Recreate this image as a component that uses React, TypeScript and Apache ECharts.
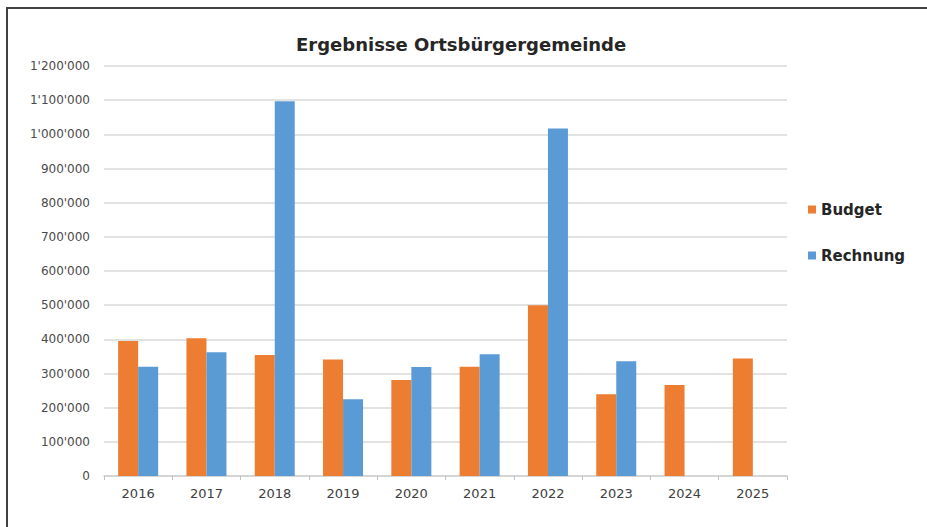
import React, { useEffect, useRef } from "react";
import * as echarts from "echarts";

const years = ["2016", "2017", "2018", "2019", "2020", "2021", "2022", "2023", "2024", "2025"];
const budget = [395000, 403000, 354000, 341000, 281000, 320000, 500000, 239000, 266000, 344000];
const rechnung: (number | null)[] = [320000, 362000, 1097000, 225000, 319000, 356000, 1017000, 336000, null, null];
const title = "Ergebnisse Ortsbürgergemeinde";
const seriesNames = ["Budget", "Rechnung"];

const fmt = (v: number) => String(v).replace(/\B(?=(\d{3})+(?!\d))/g, "'");

export default function App() {
  const ref = useRef<HTMLDivElement>(null);
  useEffect(() => {
    if (!ref.current) return;
    const chart = echarts.init(ref.current, null, { renderer: "svg" });
    const font = "'DejaVu Sans', sans-serif";
    chart.setOption({
      animation: false,
      backgroundColor: "#ffffff",
      textStyle: { fontFamily: font },
      title: {
        text: title,
        left: 291,
        top: 30,
        textStyle: { fontSize: 18, fontWeight: "bold", color: "#262626", fontFamily: font },
      },
      legend: {
        orient: "vertical",
        left: 803,
        top: 197,
        itemWidth: 8,
        itemHeight: 8,
        itemGap: 31,
        icon: "rect",
        data: seriesNames,
        textStyle: { fontSize: 15, fontWeight: "bold", color: "#262626", fontFamily: font },
      },
      grid: { left: 104, right: 140, top: 66, bottom: 51, containLabel: false },
      xAxis: {
        type: "category",
        data: years,
        axisLine: { lineStyle: { color: "#d0d0d0", width: 1.5 } },
        axisTick: { show: true, length: 4, lineStyle: { color: "#c0c0c0" } },
        axisLabel: { color: "#404040", fontSize: 13, margin: 11, fontFamily: font },
      },
      yAxis: {
        type: "value",
        min: 0,
        max: 1200000,
        interval: 100000,
        axisLine: { show: false },
        axisTick: { show: false },
        splitLine: { lineStyle: { color: "#d9d9d9", width: 1.5 } },
        axisLabel: { color: "#4a4a4a", fontSize: 12, margin: 14, formatter: (v: number) => fmt(v), fontFamily: font },
      },
      series: [
        {
          name: seriesNames[0],
          type: "bar",
          data: budget,
          barWidth: 20,
          barGap: "0%",
          itemStyle: { color: "#ed7d31" },
        },
        {
          name: seriesNames[1],
          type: "bar",
          data: rechnung,
          barWidth: 20,
          barGap: "0%",
          itemStyle: { color: "#5b9bd5" },
        },
      ],
      graphic: [
        { type: "line", shape: { x1: 6, y1: 8, x2: 927, y2: 8 }, style: { stroke: "#404040", lineWidth: 2 } },
        { type: "line", shape: { x1: 7, y1: 7, x2: 7, y2: 527 }, style: { stroke: "#404040", lineWidth: 2 } },
      ],
    });
    return () => chart.dispose();
  }, []);
  return <div ref={ref} style={{ position: "fixed", left: 0, top: 0, width: 927, height: 527 }} />;
}
